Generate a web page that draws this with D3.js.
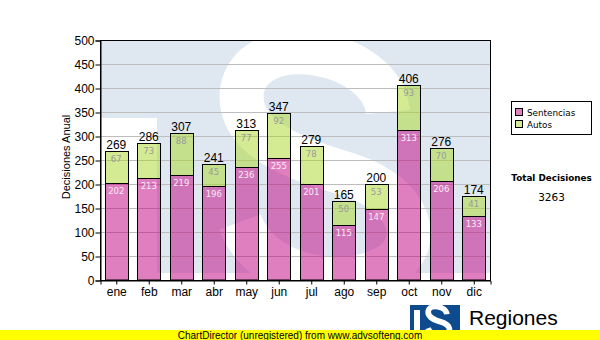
<!DOCTYPE html>
<html>
<head>
<meta charset="utf-8">
<script src="https://cdn.jsdelivr.net/npm/d3@7"></script>
<style>
  html, body { margin: 0; padding: 0; background: #fff; }
  svg { display: block; }
  text { font-family: "Liberation Sans", Arial, sans-serif; }
</style>
</head>
<body>
<svg id="chart" width="600" height="340"></svg>
<script>
// Monthly decisions, stacked: Sentencias below, Autos on top
const months = ["ene", "feb", "mar", "abr", "may", "jun", "jul", "ago", "sep", "oct", "nov", "dic"];
const sentencias = [202, 213, 219, 196, 236, 255, 201, 115, 147, 313, 206, 133];
const autos = [67, 73, 88, 45, 77, 92, 78, 50, 53, 93, 70, 41];
const yTicks = [0, 50, 100, 150, 200, 250, 300, 350, 400, 450, 500];
const seriesNames = ["Sentencias", "Autos"];

const totals = months.map((m, i) => sentencias[i] + autos[i]);
const grandTotal = d3.sum(totals);

const svg = d3.select("#chart");
const plot = { left: 100, top: 40, right: 490, bottom: 280 };

const x = d3.scaleBand().domain(months).range([plot.left, plot.right])
  .paddingInner(0.29).paddingOuter(0.145);
const y = d3.scaleLinear().domain([0, 500]).range([plot.bottom, plot.top]);

const pinkFill = "#c10081", greenFill = "#a9d729";

// plot background with faint logo watermark
const defs = svg.append("defs");
defs.append("clipPath").attr("id", "wmClip").append("rect")
  .attr("x", plot.left).attr("y", plot.top)
  .attr("width", plot.right - plot.left).attr("height", 233);

const wm = svg.append("g").attr("clip-path", "url(#wmClip)");
wm.append("rect").attr("x", plot.left).attr("y", plot.top)
  .attr("width", plot.right - plot.left).attr("height", 233).attr("fill", "#dfe8f1");
wm.append("rect").attr("x", plot.left).attr("y", 118)
  .attr("width", 57).attr("height", 160).attr("fill", "#fff");
const sPath = "M 388,112 C 382,48 252,28 242,90 C 236,140 300,160 350,175 C 410,195 424,240 392,264 C 352,292 262,282 240,222";
wm.append("path").attr("d", sPath).attr("fill", "none")
  .attr("stroke", "#fff").attr("stroke-width", 44);

// horizontal grid
svg.append("g").selectAll("line").data(yTicks.filter(t => t > 0 && t < 500)).join("line")
  .attr("x1", plot.left).attr("x2", plot.right)
  .attr("y1", d => Math.round(y(d)) + 0.5).attr("y2", d => Math.round(y(d)) + 0.5)
  .attr("stroke", "#bdbdbd").attr("stroke-width", 1);

// bars
const bars = svg.append("g");
months.forEach((m, i) => {
  const bx = Math.round(x(m)) + 0.5, bw = Math.round(x.bandwidth());
  const ySen = Math.round(y(sentencias[i])) + 0.5;
  const yTot = Math.round(y(totals[i])) + 0.5;
  bars.append("rect").attr("x", bx).attr("y", ySen)
    .attr("width", bw).attr("height", y(0) - ySen)
    .attr("fill", pinkFill).attr("fill-opacity", 0.5)
    .attr("stroke", "#000").attr("stroke-width", 1);
  bars.append("rect").attr("x", bx).attr("y", yTot)
    .attr("width", bw).attr("height", ySen - yTot)
    .attr("fill", greenFill).attr("fill-opacity", 0.5)
    .attr("stroke", "#000").attr("stroke-width", 1);
  const cx = x(m) + x.bandwidth() / 2;
  bars.append("text").attr("x", cx).attr("y", ySen + 10)
    .attr("text-anchor", "middle").attr("fill", "#fbeaf6")
    .style("font-family", "'DejaVu Sans', Verdana, sans-serif").style("font-size", "8.5px")
    .text(sentencias[i]);
  bars.append("text").attr("x", cx).attr("y", yTot + 10)
    .attr("text-anchor", "middle").attr("fill", "#9a9a9a")
    .style("font-family", "'DejaVu Sans', Verdana, sans-serif").style("font-size", "8.5px")
    .text(autos[i]);
  bars.append("text").attr("x", cx).attr("y", yTot - 3)
    .attr("text-anchor", "middle").attr("fill", "#000")
    .style("font-size", "12px").text(totals[i]);
});

// plot frame
svg.append("rect").attr("x", plot.left + 0.5).attr("y", plot.top + 0.5)
  .attr("width", plot.right - plot.left).attr("height", plot.bottom - plot.top)
  .attr("fill", "none").attr("stroke", "#000").attr("stroke-width", 1);

// axes
const yAxis = svg.append("g").attr("transform", `translate(${plot.left + 0.5},0.5)`)
  .call(d3.axisLeft(y).tickValues(yTicks).tickSize(5).tickPadding(1));
const xAxis = svg.append("g").attr("transform", `translate(0.5,${plot.bottom + 0.5})`)
  .call(d3.axisBottom(x).tickSize(4).tickPadding(3));
[yAxis, xAxis].forEach(g => {
  g.selectAll("path").attr("stroke", "#000").attr("stroke-width", 1);
  g.selectAll("line").attr("stroke", "#000");
  g.selectAll("text").attr("fill", "#000")
    .style("font-family", "'Liberation Sans', Arial, sans-serif").style("font-size", "12px");
});

svg.append("text").attr("transform", "translate(70,157) rotate(-90)")
  .attr("text-anchor", "middle").style("font-size", "11px").attr("fill", "#000")
  .text("Decisiones Anual");

// legend
const lg = svg.append("g");
lg.append("rect").attr("x", 511.5).attr("y", 101.5).attr("width", 80).attr("height", 33)
  .attr("fill", "#fff").attr("stroke", "#000");
seriesNames.forEach((name, i) => {
  const ly = 108 + i * 12;
  lg.append("rect").attr("x", 515.5).attr("y", ly + 0.5).attr("width", 7).attr("height", 7)
    .attr("fill", i === 0 ? "#e080c0" : "#d4eb94").attr("stroke", "#000");
  lg.append("text").attr("x", 527).attr("y", ly + 8)
    .style("font-family", "'DejaVu Sans', Verdana, sans-serif").style("font-size", "8.8px")
    .attr("fill", "#000").text(name);
});

svg.append("text").attr("x", 551.5).attr("y", 181).attr("text-anchor", "middle")
  .style("font-family", "'DejaVu Sans', Verdana, sans-serif").style("font-size", "8.8px")
  .style("font-weight", "bold").attr("fill", "#000").text("Total Decisiones");
svg.append("text").attr("x", 551.5).attr("y", 201).attr("text-anchor", "middle")
  .style("font-family", "'DejaVu Sans', Verdana, sans-serif").style("font-size", "10.5px")
  .attr("fill", "#000").text(grandTotal);

// logo at lower right
const logo = svg.append("g");
logo.append("rect").attr("x", 410).attr("y", 305).attr("width", 50).attr("height", 30).attr("fill", "#0e4a8e");
logo.append("rect").attr("x", 414).attr("y", 310).attr("width", 6).attr("height", 25).attr("fill", "#fff");
logo.append("path").attr("d", sPath)
  .attr("transform", "translate(410,305) scale(0.128) translate(-100,-40)")
  .attr("fill", "none").attr("stroke", "#fff").attr("stroke-width", 44);
logo.append("text").attr("x", 469).attr("y", 325).style("font-size", "21px")
  .attr("fill", "#000").text("Regiones");

// footer banner
svg.append("rect").attr("x", 0).attr("y", 330).attr("width", 600).attr("height", 10).attr("fill", "#ffff00");
svg.append("text").attr("x", 300).attr("y", 338.5).attr("text-anchor", "middle")
  .style("font-size", "10px").attr("fill", "#000")
  .text("ChartDirector (unregistered) from www.advsofteng.com");
</script>
</body>
</html>
